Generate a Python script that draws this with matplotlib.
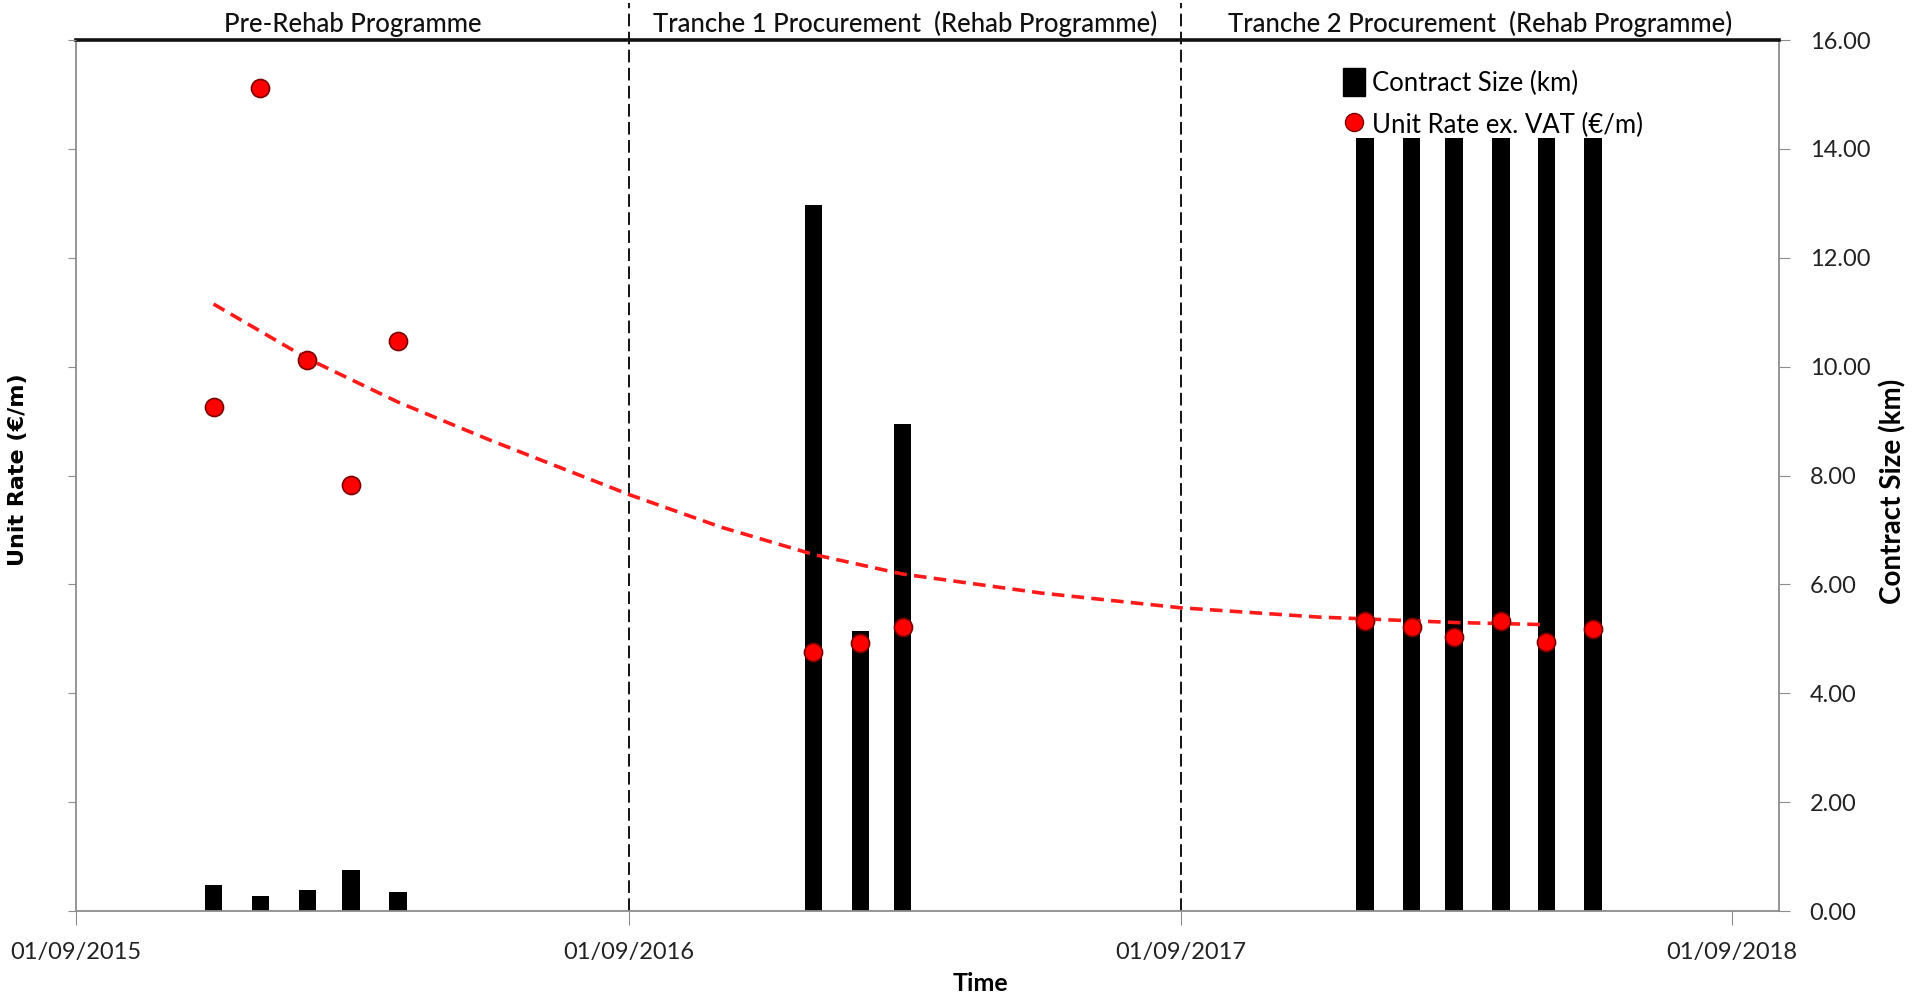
import pandas as pd
import matplotlib
matplotlib.use('Agg')
import matplotlib.pyplot as plt
import matplotlib.dates as mdates
import matplotlib.transforms as mtransforms
from matplotlib.patches import Patch
from matplotlib.lines import Line2D

plt.rcParams['font.family'] = ['Lato', 'DejaVu Sans']

# =====================
# DATA
# =====================
contract_dates = pd.to_datetime([
    '2015-12-01', '2016-01-01', '2016-02-01', '2016-03-01', '2016-04-01',
    '2017-01-01', '2017-02-01', '2017-03-01',
    '2018-01-01', '2018-02-01', '2018-03-01', '2018-04-01', '2018-05-01', '2018-06-01',
])
contract_km = [0.47, 0.28, 0.38, 0.76, 0.35,
               12.97, 5.15, 8.94,
               14.2, 14.2, 14.2, 14.2, 14.2, 14.2]
unit_rate = [9.26, 15.12, 10.13, 7.82, 10.47,
             4.75, 4.93, 5.21,
             5.32, 5.22, 5.04, 5.33, 4.95, 5.18]

# trend line
trend_dates = pd.to_datetime([
    '2015-12-01', '2016-02-01', '2016-04-01', '2016-06-01', '2016-09-01',
    '2016-11-01', '2017-01-01', '2017-03-01', '2017-06-01', '2017-09-01',
    '2017-12-01', '2018-03-01', '2018-05-01',
])
trend_rate = [11.15, 10.15, 9.35, 8.65, 7.65,
              7.05, 6.55, 6.19, 5.84, 5.57,
              5.40, 5.30, 5.26]

period_bounds = pd.to_datetime(['2015-09-01', '2016-09-01', '2017-09-01', '2018-10-02'])
period_names = ['Pre-Rehab Programme',
                'Tranche 1 Procurement  (Rehab Programme)',
                'Tranche 2 Procurement  (Rehab Programme)']
x_ticks = pd.to_datetime(['2015-09-01', '2016-09-01', '2017-09-01', '2018-09-01'])
y_ticks = [0, 2, 4, 6, 8, 10, 12, 14, 16]

GREY = '#8c8c8c'
W, H = 1915, 996

# =====================
# FIGURE
# =====================
fig = plt.figure(figsize=(W / 100, H / 100), dpi=100)
ax = fig.add_axes([76 / W, (H - 911) / H, (1779 - 76) / W, (911 - 40) / H])
ax2 = ax.twinx()

# bars -> right axis (contract size)
ax.bar(contract_dates, contract_km, width=11.5, color='black', zorder=2)
ax.set_ylim(0, 16)
ax.set_yticks(y_ticks)
ax.yaxis.tick_right()
ax.yaxis.set_major_formatter(matplotlib.ticker.FormatStrFormatter('%.2f'))
ax.tick_params(axis='y', direction='out', length=8, color=GREY, pad=14,
               labelsize=17, labelcolor='#222222')

# points + trend -> left axis (unit rate)
ax2.plot(trend_dates, trend_rate, color='#ff1a1a', lw=2.6,
         linestyle=(0, (3.5, 2.0)), zorder=3)
ax2.plot(contract_dates, unit_rate, linestyle='none', marker='o', markersize=13,
         markerfacecolor='#ff0000', markeredgecolor='#7a0000', markeredgewidth=1.2,
         zorder=4)
ax2.set_ylim(0, 16)
ax2.set_yticks(y_ticks)
ax2.yaxis.tick_left()
ax2.tick_params(axis='y', direction='out', length=6, color=GREY, labelleft=False,
                labelright=False)

# x axis
ax.set_xlim(period_bounds[0], period_bounds[-1])
ax.set_xticks(x_ticks)
ax.xaxis.set_major_formatter(mdates.DateFormatter('%d/%m/%Y'))
ax.tick_params(axis='x', direction='out', length=10, color=GREY, pad=12,
               labelsize=17, labelcolor='#222222')

for side in ['left', 'bottom', 'right']:
    ax.spines[side].set_color(GREY)
    ax.spines[side].set_linewidth(1.3)
ax.spines['top'].set_color('#111111')
ax.spines['top'].set_linewidth(2.6)
for s in ax2.spines.values():
    s.set_visible(False)

# period separators and headers
trans = mtransforms.blended_transform_factory(ax.transData, ax.transAxes)
for d in period_bounds[1:3]:
    ax.axvline(d, ymin=0, ymax=1.042, color='black', lw=1.3,
               linestyle=(0, (7, 3)), clip_on=False, zorder=1)
for i, name in enumerate(period_names):
    mid = period_bounds[i] + (period_bounds[i + 1] - period_bounds[i]) / 2
    ax.text(mid, 1.018, name, transform=trans, ha='center', va='center',
            fontsize=18.5, color='#111111', fontweight='medium')

# axis titles
fig.text(18 / W, 1 - 470 / H, 'Unit Rate (€/m)', rotation=90, ha='center', va='center',
         fontsize=16, fontweight='bold', family='DejaVu Sans')
fig.text(1893 / W, 1 - 491 / H, 'Contract Size (km)', rotation=90, ha='center',
         va='center', fontsize=20, fontweight='bold')
fig.text(980 / W, 1 - 983 / H, 'Time', ha='center', va='center',
         fontsize=18, fontweight='bold')

# legend
handles = [Patch(facecolor='black', edgecolor='black'),
           Line2D([], [], linestyle='none', marker='o', markersize=13,
                  markerfacecolor='#ff0000', markeredgecolor='#7a0000')]
labels = ['Contract Size (km)', 'Unit Rate ex. VAT (€/m)']
fig.legend(handles, labels, loc='upper left', bbox_to_anchor=(1333 / W, 1 - 58 / H),
           frameon=False, fontsize=18.5, handlelength=0.85, handleheight=1.3,
           handletextpad=0.25, labelspacing=0.55, borderaxespad=0)

fig.savefig('out.png', dpi=100)
